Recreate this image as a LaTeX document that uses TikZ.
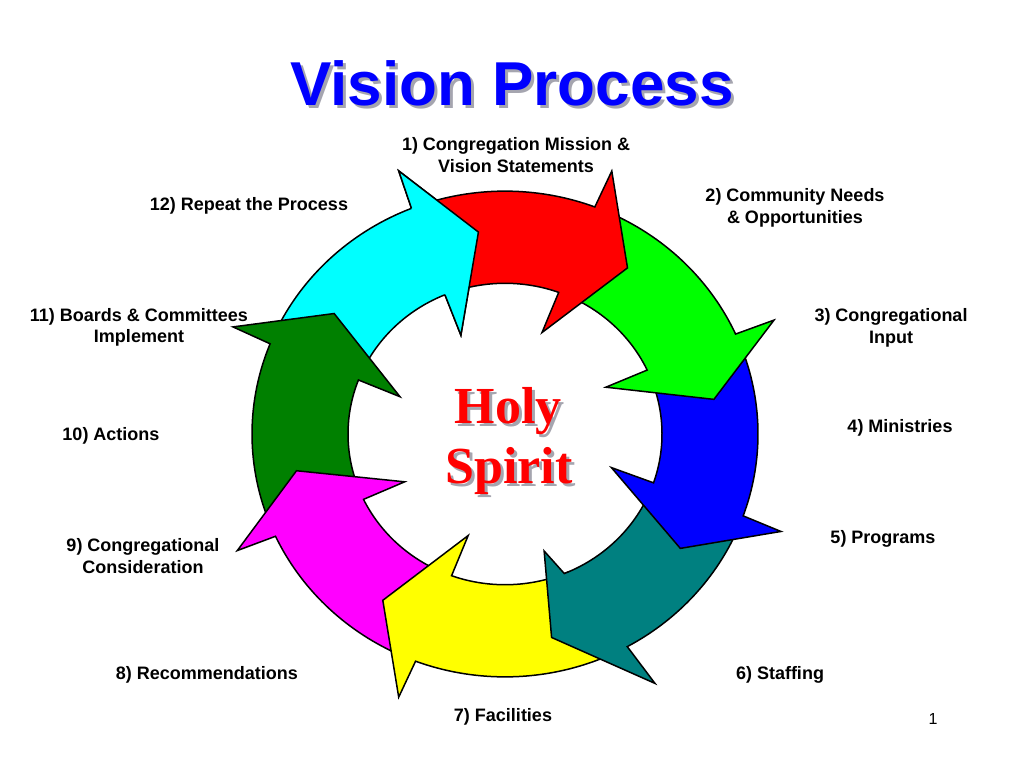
\documentclass[tikz,border=0pt]{standalone}
\usepackage{fontspec}
\setmainfont{Liberation Sans}
\newfontfamily\vpserif{Liberation Serif}
\definecolor{vpred}{RGB}{255,0,0}
\definecolor{vpgreen}{RGB}{0,255,0}
\definecolor{vpblue}{RGB}{0,0,255}
\definecolor{vpteal}{RGB}{0,128,128}
\definecolor{vpyellow}{RGB}{255,255,0}
\definecolor{vpmagenta}{RGB}{255,0,255}
\definecolor{vpdkgreen}{RGB}{0,128,0}
\definecolor{vpcyan}{RGB}{0,255,255}
\definecolor{vpshadow}{RGB}{165,165,175}
\tikzset{
  arrowshape/.style={draw=black, line width=1.5pt, line join=miter},
  arrowedge/.style={draw=black, line width=1.5pt, line join=miter},
  lbl/.style={font=\fontsize{18}{21.7}\selectfont\bfseries, align=center, anchor=base, inner sep=0pt},
  titletext/.style={font=\fontsize{62}{70}\selectfont\bfseries, anchor=base, inner sep=0pt},
  holytext/.style={font=\vpserif\fontsize{52}{60}\selectfont\bfseries, anchor=base, inner sep=0pt},
}
% general ring arrow:
% #1 colour, #2 tail angle, #3 outer meet angle, #4 outer barb angle, #5 outer barb radius,
% #6 tip angle, #7 tip radius, #8 inner barb angle, #9 inner barb radius; inner meet angle in \vpim
\newcommand\ringarrowgen[9]{%
  \path[arrowshape, fill=#1] (#2:253) arc[start angle=#2, end angle=#3, radius=253]
    -- (#4:#5) -- (#6:#7) -- (#8:#9) -- (\vpim:157)
    arc[start angle=\vpim, end angle=#2, radius=157] -- cycle;
}
% template ring arrow: #1 colour, #2 tip angle, #3 tail angle
\newcommand\ringarrow[3]{%
  \pgfmathsetmacro\vpob{#2+14}%
  \pgfmathsetmacro\vpom{#2+14.5}%
  \pgfmathsetmacro\vpim{#2+15.3}%
  \pgfmathsetmacro\vpib{#2+16}%
  \ringarrowgen{#1}{#3}{\vpom}{\vpob}{294}{#2}{212}{\vpib}{112}%
}
\begin{document}
\begin{tikzpicture}[x=1pt, y=-1pt]
\useasboundingbox (0,0) rectangle (1024,768);
\fill[white] (0,0) rectangle (1024,768);

% title
\node[titletext, text=vpshadow] (titleshadow) at (515,108) {Vision Process};
\node[titletext, text=vpblue] (title) at (512,105) {Vision Process};

% ring of arrows
\begin{scope}[shift={(505,434)}, yscale=-0.96]
  \ringarrow{vpcyan}{97.2}{153.7}
  \ringarrow{vpdkgreen}{143.7}{200.4}
  \ringarrow{vpmagenta}{190.4}{244.8}
  \ringarrow{vpyellow}{-125.2}{-66}
  \def\vpim{-67.8}%
  \ringarrowgen{vpteal}{-24.2}{-61.1}{-60}{300}{-77.6}{217}{-72.2}{128}
  \ringarrow{vpblue}{-34.2}{19.8}
  \ringarrow{vpgreen}{9.8}{64.7}
  \ringarrow{vpred}{54.7}{107.2}
  % cyan head lies over the red tail
  \fill[vpcyan] (111.7:253) -- (111.2:294) -- (97.2:212) -- (113.2:112) -- (112.5:157) -- cycle;
  \draw[arrowedge] (111.7:253) -- (111.2:294) -- (97.2:212) -- (113.2:112) -- (112.5:157);
\end{scope}

% centre text
\node[holytext, text=vpshadow] (holyshadow) at (511,426) {Holy};
\node[holytext, text=vpred] (holy) at (508,423) {Holy};
\node[holytext, text=vpshadow] (spiritshadow) at (512,486) {Spirit};
\node[holytext, text=vpred] (spirit) at (509,483) {Spirit};

% labels (anchor base = baseline of the last line)
\node[lbl] (l1) at (516,172) {1) Congregation Mission \&\\Vision Statements};
\node[lbl] (l2) at (795,223.3) {2) Community Needs\\\& Opportunities};
\node[lbl] (l3) at (891,343.3) {3) Congregational\\Input};
\node[lbl] (l4) at (900,432.7) {4) Ministries};
\node[lbl] (l5) at (883,543.3) {5) Programs};
\node[lbl] (l6) at (780,679) {6) Staffing};
\node[lbl] (l7) at (503,721) {7) Facilities};
\node[lbl] (l8) at (207,679) {8) Recommendations};
\node[lbl] (l9) at (143,573.3) {9) Congregational\\Consideration};
\node[lbl] (l10) at (111,440) {10) Actions};
\node[lbl] (l11) at (139,342.7) {11) Boards \& Committees\\Implement};
\node[lbl] (l12) at (249,210.7) {12) Repeat the Process};
\node[font=\fontsize{16}{19}\selectfont, anchor=base, inner sep=0pt] (page) at (933,724) {1};
\end{tikzpicture}
\end{document}
